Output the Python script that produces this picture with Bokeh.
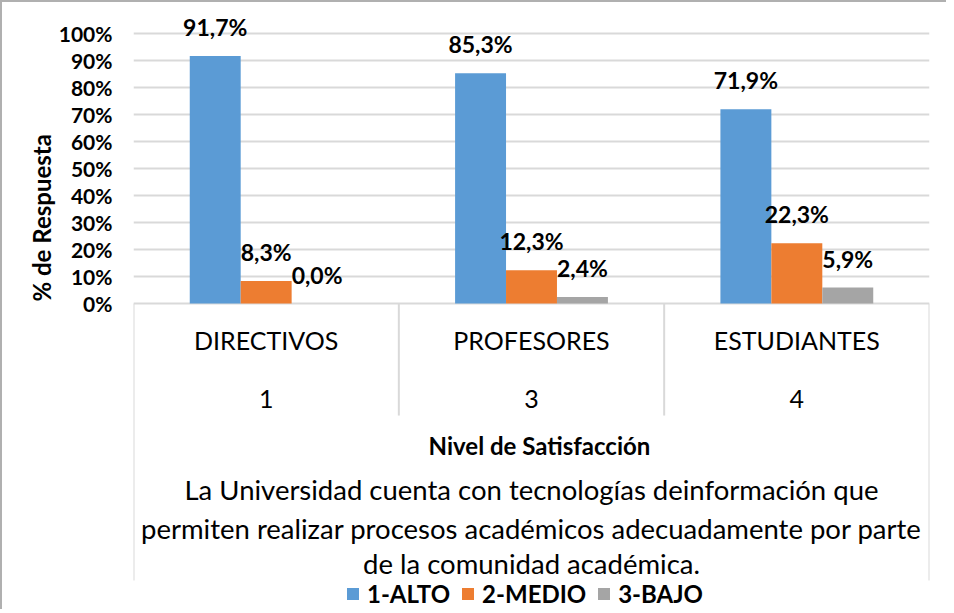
import math
from bokeh.plotting import figure
from bokeh.models import (ColumnDataSource, FactorRange, Range1d, FixedTicker, LabelSet, Label,
                          Arrow, Legend, LegendItem, NumeralTickFormatter, Title)
from bokeh.transform import dodge
from bokeh.core.properties import value
from bokeh.embed import file_html
from bokeh.resources import INLINE

# ---------------- data ----------------
categories = ["DIRECTIVOS", "PROFESORES", "ESTUDIANTES"]
group_codes = ["1", "3", "4"]
series_names = ["1-ALTO", "2-MEDIO", "3-BAJO"]
alto = [0.917, 0.853, 0.719]
medio = [0.083, 0.123, 0.223]
bajo = [0.000, 0.024, 0.059]
y_ticks = [0.0, 0.1, 0.2, 0.3, 0.4, 0.5, 0.6, 0.7, 0.8, 0.9, 1.0]
y_title = "%  de Respuesta"
x_title = "Nivel de Satisfacción"
question_lines = [
    "La Universidad cuenta con tecnologías deinformación que",
    "permiten realizar procesos académicos adecuadamente por parte",
    "de la comunidad académica.",
]

colors = ["#5B9BD5", "#ED7D31", "#A5A5A5"]
FONT = "Lato"
GRID = "#D9D9D9"


def pct(v):
    return f"{v * 100:.1f}%".replace(".", ",")


src = ColumnDataSource(dict(
    cats=categories,
    codes=group_codes,
    alto=alto, medio=medio, bajo=bajo,
    alto_t=[pct(v) for v in alto],
    medio_t=[pct(v) for v in medio],
    bajo_t=[pct(v) for v in bajo],
))

W, H = 946, 609
TOP, BOTTOM = 8, 0
PX_PER_UNIT = 270.0
frame_h = H - TOP - BOTTOM
y_end = 293 / PX_PER_UNIT
y_start = y_end - frame_h / PX_PER_UNIT

p = figure(width=W, height=H, output_backend="svg", toolbar_location=None,
           x_range=FactorRange(*categories, range_padding=0),
           y_range=Range1d(y_start, y_end),
           min_border_left=131, min_border_right=19,
           min_border_top=TOP, min_border_bottom=BOTTOM)
p.outline_line_color = None
p.background_fill_color = "white"
p.border_fill_color = "white"
p.styles = {"border-top": "2px solid #B0B0B0", "border-left": "2px solid #B0B0B0"}

# axes
p.xaxis.visible = False
p.xgrid.visible = False
p.yaxis.ticker = FixedTicker(ticks=y_ticks)
p.yaxis.formatter = NumeralTickFormatter(format="0%")
p.yaxis.axis_line_color = None
p.yaxis.major_tick_line_color = None
p.yaxis.minor_tick_line_color = None
p.yaxis.axis_label_standoff = 0
p.yaxis.major_label_standoff = 15
p.yaxis.major_label_text_font = FONT
p.yaxis.major_label_text_font_style = "bold"
p.yaxis.major_label_text_font_size = "21px"
p.yaxis.major_label_text_color = "black"
p.ygrid.grid_line_color = GRID
p.ygrid.grid_line_width = 2

# y axis title as a side-panel title
p.add_layout(Title(text=y_title, align="left", offset=310, text_font=FONT,
                   text_font_style="bold", text_font_size="24px", text_color="black",
                   standoff=0), "left")

bw = 0.192
offs = [-bw, 0.0, bw]
fields = ["alto", "medio", "bajo"]
renderers = []
for f, o, c in zip(fields, offs, colors):
    r = p.vbar(x=dodge("cats", o, range=p.x_range), top=f, width=bw, source=src,
               fill_color=c, line_color=None)
    renderers.append(r)
    ls = LabelSet(x=dodge("cats", o, range=p.x_range), y=f, text=f + "_t", source=src,
                  text_align="center", text_baseline="alphabetic", y_offset=20,
                  text_font=value(FONT), text_font_style="bold",
                  text_font_size="23px", text_color="black")
    p.add_layout(ls)

# category axis box lines
n = len(categories)
for b in range(n + 1):
    bottom = -1.026 if b in (0, n) else -0.415
    p.add_layout(Arrow(end=None, x_start=b, y_start=0, x_end=b, y_end=bottom,
                       line_color=GRID, line_width=2))

# category labels (two levels)
p.add_layout(LabelSet(x="cats", y=-0.137, text="cats", source=src,
                      text_align="center", text_baseline="middle",
                      text_font=value(FONT), text_font_size="25px", text_color="black"))
p.add_layout(LabelSet(x="cats", y=-0.352, text="codes", source=src,
                      text_align="center", text_baseline="middle",
                      text_font=value(FONT), text_font_size="25px", text_color="black"))

# axis title and question text
p.add_layout(Label(x=n / 2 + 0.03, y=-0.526, text=x_title, text_align="center",
                   text_baseline="middle", text_font=FONT, text_font_style="bold",
                   text_font_size="24px", text_color="black"))
for txt, yy in zip(question_lines, [-0.690, -0.835, -0.963]):
    p.add_layout(Label(x=n / 2, y=yy, text=txt, text_align="center",
                       text_baseline="middle", text_font=FONT,
                       text_font_size="27.5px", text_color="black"))

# legend
legend = Legend(items=[LegendItem(label=nm, renderers=[r]) for nm, r in zip(series_names, renderers)],
                location=(212, 3), orientation="horizontal",
                glyph_width=15, glyph_height=15, label_standoff=7, spacing=10,
                padding=0, margin=0, border_line_color=None, background_fill_alpha=0,
                label_text_font=FONT, label_text_font_style="bold",
                label_text_font_size="24px", label_text_color="black")
p.add_layout(legend, "center")

open("out.html", "w").write(file_html(p, INLINE))
